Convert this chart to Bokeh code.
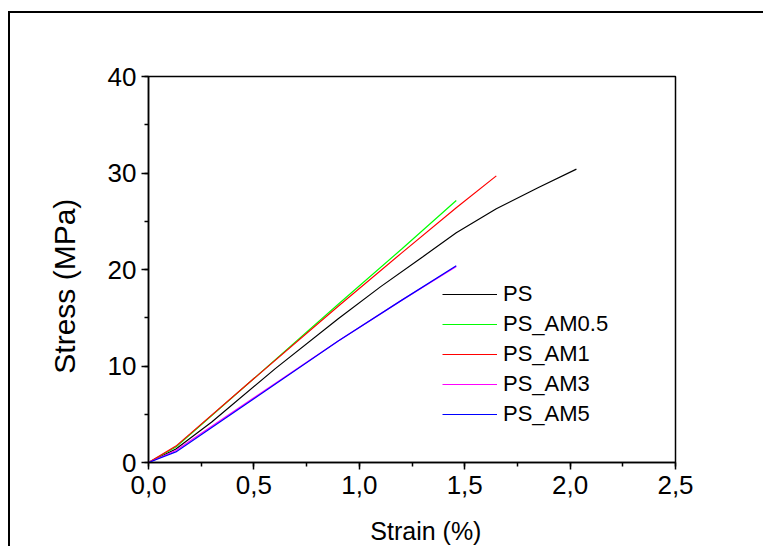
from bokeh.plotting import figure
from bokeh.models import Legend, LegendItem, Range1d, SingleIntervalTicker
from bokeh.embed import file_html
from bokeh.resources import INLINE

# ---- data ----
series_names = ["PS", "PS_AM0.5", "PS_AM1", "PS_AM3", "PS_AM5"]
series_colors = ["#000000", "#00FF00", "#FF0000", "#FF00FF", "#0000FF"]

ps_strain = [0.0, 0.13, 0.3, 0.6, 0.9, 1.1, 1.3, 1.46, 1.65, 1.85, 2.03]
ps_stress = [0.0, 1.4, 4.2, 9.7, 14.9, 18.2, 21.3, 23.8, 26.3, 28.5, 30.4]

am05_strain = [0.0, 0.13, 0.5, 0.9, 1.2, 1.46]
am05_stress = [0.0, 1.6, 8.7, 16.4, 22.1, 27.15]

am1_strain = [0.0, 0.13, 0.5, 0.9, 1.2, 1.46, 1.65]
am1_stress = [0.0, 1.7, 8.7, 16.2, 21.7, 26.4, 29.7]

am3_strain = [0.0, 0.13, 0.5, 0.9, 1.2, 1.46]
am3_stress = [0.0, 1.25, 6.7, 12.6, 16.8, 20.3]

am5_strain = [0.0, 0.13, 0.5, 0.9, 1.2, 1.46]
am5_stress = [0.0, 1.1, 6.6, 12.6, 16.8, 20.4]

x_tick_values = [0.0, 0.5, 1.0, 1.5, 2.0, 2.5]
x_tick_labels = ["0,0", "0,5", "1,0", "1,5", "2,0", "2,5"]

FONT = "Liberation Sans"
NB = "\u00a0"

p = figure(width=755, height=542, output_backend="svg", toolbar_location=None,
           x_range=Range1d(0, 2.5), y_range=Range1d(0, 40),
           min_border_left=138, min_border_right=90, min_border_top=63, min_border_bottom=93,
           styles={"margin-top": "11px", "margin-left": "8px",
                   "border-top": "2px solid black", "border-left": "2px solid black"})

p.xgrid.visible = False
p.ygrid.visible = False
p.outline_line_color = "black"
p.outline_line_width = 1.5

p.xaxis.ticker = SingleIntervalTicker(interval=0.5, num_minor_ticks=2)
p.yaxis.ticker = SingleIntervalTicker(interval=10, num_minor_ticks=2)
p.xaxis.major_label_overrides = {v: l for v, l in zip(x_tick_values, x_tick_labels)}

for ax in (p.xaxis[0], p.yaxis[0]):
    ax.axis_line_width = 1.5
    ax.axis_line_color = "black"
    ax.major_tick_line_color = "black"
    ax.minor_tick_line_color = "black"
    ax.major_tick_line_width = 1.5
    ax.minor_tick_line_width = 1.5
    ax.major_tick_in = 0
    ax.major_tick_out = 7
    ax.minor_tick_in = 0
    ax.minor_tick_out = 4
    ax.major_label_text_font = FONT
    ax.major_label_text_font_size = "26px"
    ax.major_label_text_color = "black"
    ax.axis_label_text_font = FONT
    ax.axis_label_text_font_style = "normal"
    ax.axis_label_text_color = "black"

p.xaxis.axis_label_text_font_size = "25px"
p.yaxis.axis_label_text_font_size = "30px"
p.xaxis.axis_label = NB * 4 + "Strain (%)"
p.yaxis.axis_label = "Stress (MPa)" + NB * 4
p.xaxis.major_label_standoff = 6
p.yaxis.major_label_standoff = 5
p.xaxis.axis_label_standoff = 20
p.yaxis.axis_label_standoff = 24

all_x = [ps_strain, am05_strain, am1_strain, am3_strain, am5_strain]
all_y = [ps_stress, am05_stress, am1_stress, am3_stress, am5_stress]

renderers = []
for xs, ys, c in zip(all_x, all_y, series_colors):
    renderers.append(p.line(xs, ys, line_color=c, line_width=1.2))

legend = Legend(items=[LegendItem(label=n, renderers=[r]) for n, r in zip(series_names, renderers)],
                location=(294, 33), border_line_color=None, background_fill_alpha=0,
                padding=0, margin=0, spacing=0, glyph_width=55, glyph_height=30,
                label_height=30, label_standoff=6,
                label_text_font=FONT, label_text_font_size="22px", label_text_color="black")
p.add_layout(legend, "center")

html = file_html(p, INLINE)
# the reference picture is cropped at the bottom: let the page clip rather than scroll
html = html.replace("<head>", "<head><style>html, body { overflow: hidden; }</style>", 1)
open("out.html", "w").write(html)
